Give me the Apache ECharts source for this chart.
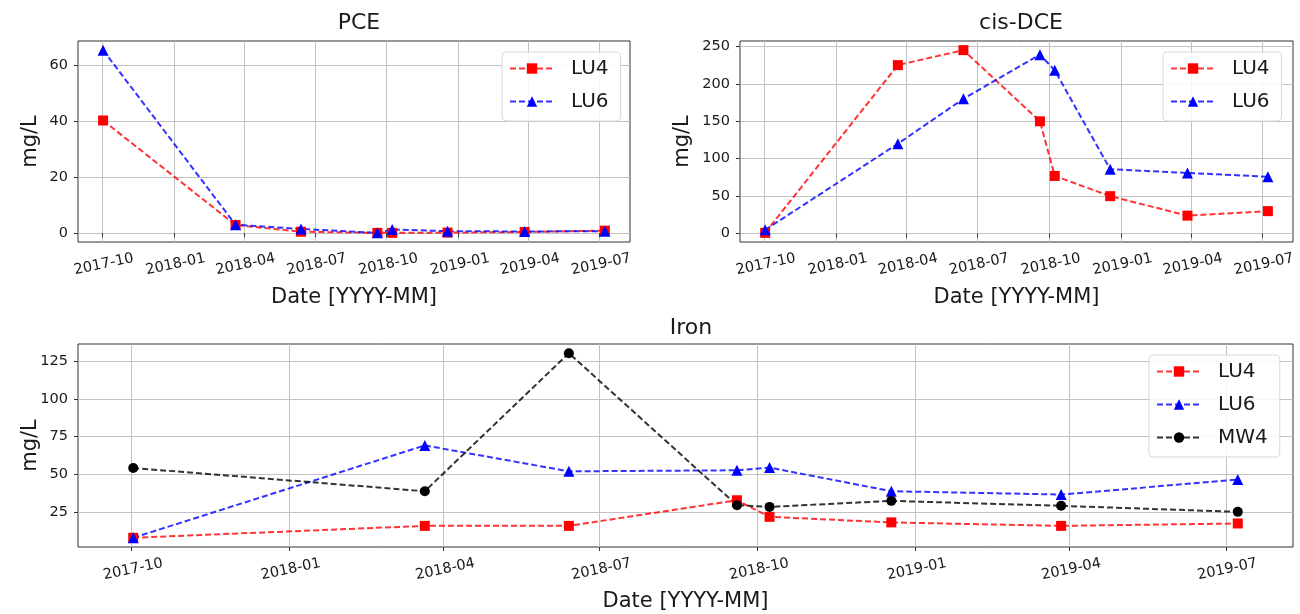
<!DOCTYPE html>
<html>
<head>
<meta charset="utf-8">
<script src="https://cdn.jsdelivr.net/npm/echarts@6/dist/echarts.min.js"></script>
<style>
  html, body { margin: 0; padding: 0; background: #fff; }
  #chart { width: 1300px; height: 614px; }
</style>
</head>
<body>
<div id="chart"></div>
<script>
// Sampling dates shared by all wells
const sampleDates = ['2017-10-02', '2018-03-21', '2018-06-13', '2018-09-19', '2018-10-08', '2018-12-18', '2019-03-27', '2019-07-08'];

// PCE concentrations (mg/L)
const pceLU4 = [40.2, 2.9, 0.5, 0.1, 0.1, 0.2, 0.4, 0.9];
const pceLU6 = [65.3, 3.0, 1.5, 0.1, 1.3, 0.7, 0.6, 0.7];

// cis-DCE concentrations (mg/L)
const dceLU4 = [1, 225, 245, 150, 77, 50, 24, 30];
const dceLU6 = [5, 120, 180, 239, 218, 86, 81, 76];

// Iron concentrations (mg/L)
const ironLU4 = [7.8, 15.7, 15.7, 32.7, 21.7, 18.0, 15.7, 17.3];
const ironLU6 = [7.8, 69.1, 51.9, 52.6, 54.4, 38.7, 36.5, 46.4];
const ironMW4 = [54.1, 38.7, 130.3, 29.4, 28.3, 32.3, 29.0, 25.0];

// Tick positions
const dateTicks = ['2017-10-01', '2018-01-01', '2018-04-01', '2018-07-01', '2018-10-01', '2019-01-01', '2019-04-01', '2019-07-01'];
const pceTicks = [0, 20, 40, 60];
const dceTicks = [0, 50, 100, 150, 200, 250];
const ironTicks = [25, 50, 75, 100, 125];

const FONT = 'DejaVu Sans';
const TEXT = '#1a1a1a';

function toTime(s) {
  const p = s.split('-').map(Number);
  return Date.UTC(p[0], p[1] - 1, p[2]);
}
function fmtMonth(v) {
  const d = new Date(v);
  const m = d.getUTCMonth() + 1;
  return d.getUTCFullYear() + '-' + (m < 10 ? '0' + m : m);
}
function pairs(vals) {
  return sampleDates.map((d, i) => [toTime(d), vals[i]]);
}
// 5% padding around the data range
function padded(vals) {
  const lo = Math.min.apply(null, vals), hi = Math.max.apply(null, vals);
  const r = hi - lo;
  return [lo - 0.05 * r, hi + 0.05 * r];
}

const times = sampleDates.map(toTime);
const xRange = padded(times);
const tickTimes = dateTicks.map(toTime);

const gridLine = { show: true, lineStyle: { color: '#c2c2c2', width: 1 } };

function xAxis(gridIndex, nameGap) {
  return {
    type: 'value', gridIndex,
    min: xRange[0], max: xRange[1],
    name: 'Date [YYYY-MM]', nameLocation: 'middle', nameGap, nameMoveOverlap: false,
    nameTextStyle: { fontFamily: FONT, fontSize: 21, color: TEXT },
    axisLine: { show: false },
    axisTick: { show: true, length: 4, lineStyle: { color: '#333' }, customValues: tickTimes },
    axisLabel: {
      customValues: tickTimes, formatter: fmtMonth, rotate: 12,
      align: 'center', verticalAlign: 'top', margin: 15,
      fontFamily: FONT, fontSize: 14.5, color: TEXT, hideOverlap: false
    },
    splitLine: Object.assign({ customValues: tickTimes }, gridLine)
  };
}
function yAxis(gridIndex, vals, ticks, nameGap) {
  const r = padded(vals);
  return {
    type: 'value', gridIndex, min: r[0], max: r[1],
    name: 'mg/L', nameLocation: 'middle', nameGap, nameRotate: 90, nameMoveOverlap: false,
    nameTextStyle: { fontFamily: FONT, fontSize: 21, color: TEXT },
    axisLine: { show: false },
    axisTick: { show: true, length: 4, lineStyle: { color: '#333' }, customValues: ticks },
    axisLabel: { customValues: ticks, fontFamily: FONT, fontSize: 14.5, color: TEXT, margin: 10 },
    splitLine: Object.assign({ customValues: ticks }, gridLine)
  };
}

const styles = {
  LU4: { color: '#ff0000', symbol: 'rect', size: 10 },
  LU6: { color: '#0000ff', symbol: 'triangle', size: 11 },
  MW4: { color: '#000000', symbol: 'circle', size: 10 }
};
function series(name, vals, idx) {
  const s = styles[name];
  return {
    type: 'line', name, xAxisIndex: idx, yAxisIndex: idx,
    data: pairs(vals),
    symbol: s.symbol, symbolSize: s.size, showAllSymbol: true,
    itemStyle: { color: s.color },
    lineStyle: { color: s.color, width: 2, type: [6, 3], opacity: 0.8 },
    emphasis: { disabled: true },
    animation: false
  };
}
function legend(names, left, top) {
  return {
    data: names, orient: 'vertical', left, top,
    itemWidth: 44, itemHeight: 13, itemGap: 12,
    padding: [6, 12, 9, 7],
    borderColor: '#d8d8d8', borderWidth: 1, borderRadius: 4,
    backgroundColor: 'rgba(255,255,255,0.85)',
    textStyle: { fontFamily: FONT, fontSize: 20, color: TEXT, lineHeight: 21, padding: [0, 0, 0, 12] },
    selectedMode: false
  };
}
function title(text, left, top) {
  return { text, left, top, textAlign: 'center',
    textStyle: { fontFamily: FONT, fontSize: 22, fontWeight: 'normal', color: TEXT } };
}

const chart = echarts.init(document.getElementById('chart'), null, { renderer: 'canvas' });
chart.setOption({
  animation: false,
  backgroundColor: '#fff',
  title: [title('PCE', 354, 7), title('cis-DCE', 1016, 7), title('Iron', 686, 312)],
  grid: [
    { left: 78, top: 41, width: 552, height: 201, show: true, borderColor: '#333', borderWidth: 1, containLabel: false },
    { left: 740, top: 41, width: 553, height: 201, show: true, borderColor: '#333', borderWidth: 1, containLabel: false },
    { left: 78, top: 344, width: 1215, height: 203, show: true, borderColor: '#333', borderWidth: 1, containLabel: false }
  ],
  xAxis: [xAxis(0, 45), xAxis(1, 45), xAxis(2, 44)],
  yAxis: [
    yAxis(0, pceLU4.concat(pceLU6), pceTicks, 37),
    yAxis(1, dceLU4.concat(dceLU6), dceTicks, 47),
    yAxis(2, ironLU4.concat(ironLU6, ironMW4), ironTicks, 37)
  ],
  legend: [
    legend(['LU4', 'LU6'], 502, 52),
    legend(['LU4', 'LU6'], 1163, 52),
    legend(['LU4', 'LU6', 'MW4'], 1149, 355)
  ],
  series: [
    series('LU4', pceLU4, 0), series('LU6', pceLU6, 0),
    series('LU4', dceLU4, 1), series('LU6', dceLU6, 1),
    series('LU4', ironLU4, 2), series('LU6', ironLU6, 2), series('MW4', ironMW4, 2)
  ]
});
</script>
</body>
</html>
